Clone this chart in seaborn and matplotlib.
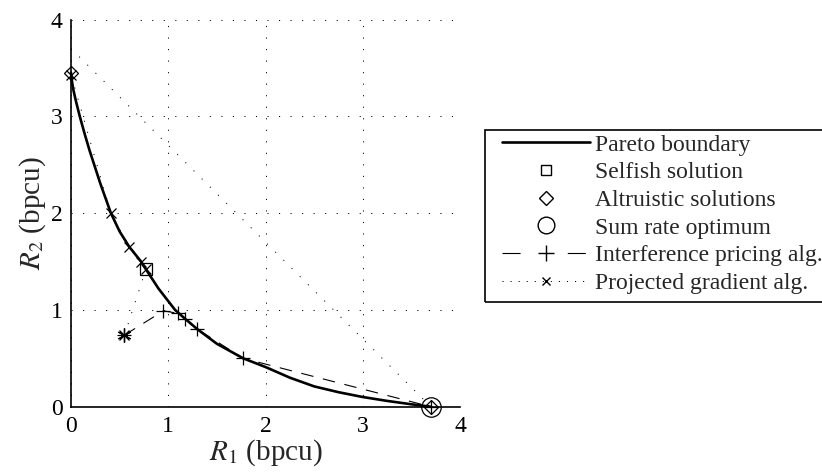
import matplotlib
matplotlib.use("Agg")
import matplotlib.pyplot as plt
from matplotlib.lines import Line2D
from matplotlib.patches import Rectangle
import seaborn as sns
import pandas as pd

# Pareto boundary of the two-user rate region (bpcu)
pareto_r1 = [0.0, 0.01, 0.025, 0.05, 0.09, 0.14, 0.19, 0.30, 0.41, 0.50, 0.60, 0.72, 0.77,
             0.90, 1.07, 1.16, 1.30, 1.50, 1.77, 2.0, 2.25, 2.5, 2.75, 3.0, 3.25, 3.5, 3.7]
pareto_r2 = [3.45, 3.36, 3.27, 3.16, 3.0, 2.82, 2.65, 2.31, 2.0, 1.81, 1.65, 1.50, 1.42,
             1.22, 1.0, 0.92, 0.80, 0.65, 0.50, 0.41, 0.30, 0.21, 0.15, 0.10, 0.06, 0.025, 0.0]

# Special operating points
selfish_r1, selfish_r2 = [0.77], [1.42]
altruistic_r1, altruistic_r2 = [0.0, 3.7], [3.45, 0.0]
sumrate_r1, sumrate_r2 = [3.7], [0.0]

# Common starting point of both algorithms
start_r1, start_r2 = [0.55], [0.74]

# Interference pricing iterates
pricing_r1 = [0.55, 0.95, 1.10, 1.17, 1.30, 1.77, 3.7]
pricing_r2 = [0.74, 0.99, 0.965, 0.91, 0.80, 0.50, 0.0]

# Projected gradient iterates
gradient_r1 = [0.55, 0.77, 0.72, 0.60, 0.41, 0.0]
gradient_r2 = [0.74, 1.42, 1.50, 1.65, 2.0, 3.43]

# Sum rate level line through the optimum
level_r1 = [0.0, 3.7]
level_r2 = [3.7, 0.0]

x_ticks = [0, 1, 2, 3, 4]
y_ticks = [0, 1, 2, 3, 4]

sns.set_style("white")
plt.rcParams["font.family"] = ["Liberation Serif", "DejaVu Serif"]
plt.rcParams["mathtext.fontset"] = "stix"
plt.rcParams["lines.scale_dashes"] = False

W, H = 822, 476
fig = plt.figure(figsize=(W / 100, H / 100), dpi=100)
ax = fig.add_axes([71 / W, 1 - 406.7 / H, (460 - 71) / W, (406.7 - 19.5) / H])

k = "black"
dot = (0, (0.8, 7.5))
dash = (0, (9, 7))


def path(xs, ys, **kw):
    sns.lineplot(data=pd.DataFrame({"r1": xs, "r2": ys}), x="r1", y="r2",
                 sort=False, estimator=None, ax=ax, color=k,
                 markeredgecolor=k, clip_on=False, **kw)


path(level_r1, level_r2, lw=0.7, linestyle=dot)
path(pareto_r1, pareto_r2, lw=1.9)
path(pricing_r1, pricing_r2, lw=0.8, linestyle=dash,
     marker="+", markersize=10, markeredgewidth=0.9)
path(gradient_r1, gradient_r2, lw=0.7, linestyle=dot,
     marker="x", markersize=7, markeredgewidth=0.9)


def points(xs, ys, marker, ms):
    sns.lineplot(x=xs, y=ys, ax=ax, color=k, linestyle="", marker=marker,
                 markersize=ms, markerfacecolor="none", markeredgecolor=k,
                 markeredgewidth=0.9, estimator=None, sort=False, clip_on=False)


points(selfish_r1, selfish_r2, "s", 8)
points(altruistic_r1, altruistic_r2, "D", 7)
points(sumrate_r1, sumrate_r2, "o", 14)
points(start_r1, start_r2, (6, 2, 0), 10)

ax.set_xlim(0, 4)
ax.set_ylim(0, 4)
ax.set_xticks(x_ticks)
ax.set_yticks(y_ticks)
ax.tick_params(labelsize=17, length=3, direction="in", colors=k)
ax.tick_params(axis="x", pad=7)
ax.tick_params(axis="y", pad=6)
ax.set_xlabel("$R_1$ (bpcu)", fontsize=21, labelpad=0)
ax.set_ylabel("$R_2$ (bpcu)", fontsize=21, labelpad=2)
ax.grid(True, color=k, linestyle=dot, lw=0.7)
for s in ["top", "right"]:
    ax.spines[s].set_visible(False)
for s in ["left", "bottom"]:
    ax.spines[s].set_color(k)
    ax.spines[s].set_linewidth(1.2)

handles = [
    Line2D([], [], color=k, lw=1.9),
    Line2D([], [], color=k, linestyle="", marker="s", markersize=7, markerfacecolor="none"),
    Line2D([], [], color=k, linestyle="", marker="D", markersize=7, markerfacecolor="none"),
    Line2D([], [], color=k, linestyle="", marker="o", markersize=12, markerfacecolor="none"),
    Line2D([], [], color=k, lw=0.8, linestyle=(0, (13, 34)), marker="+", markersize=11),
    Line2D([], [], color=k, lw=0.7, linestyle=(0, (0.8, 5)), marker="x", markersize=6),
]
labels = ["Pareto boundary", "Selfish solution", "Altruistic solutions",
          "Sum rate optimum", "Interference pricing alg.", "Projected gradient alg."]
fig.legend(handles, labels, loc="upper left", bbox_to_anchor=(502 / W, 1 - 134 / H),
           bbox_transform=fig.transFigure, fontsize=17, frameon=False,
           handlelength=3.73, handletextpad=0.22, labelspacing=0.26,
           borderpad=0, borderaxespad=0)

# legend frame, running past the right edge of the figure
fig.add_artist(Rectangle((485 / W, 1 - 302 / H), 360 / W, 172 / H,
                         transform=fig.transFigure, fill=False,
                         edgecolor=k, lw=1.2))

fig.savefig("out.png", dpi=100)
